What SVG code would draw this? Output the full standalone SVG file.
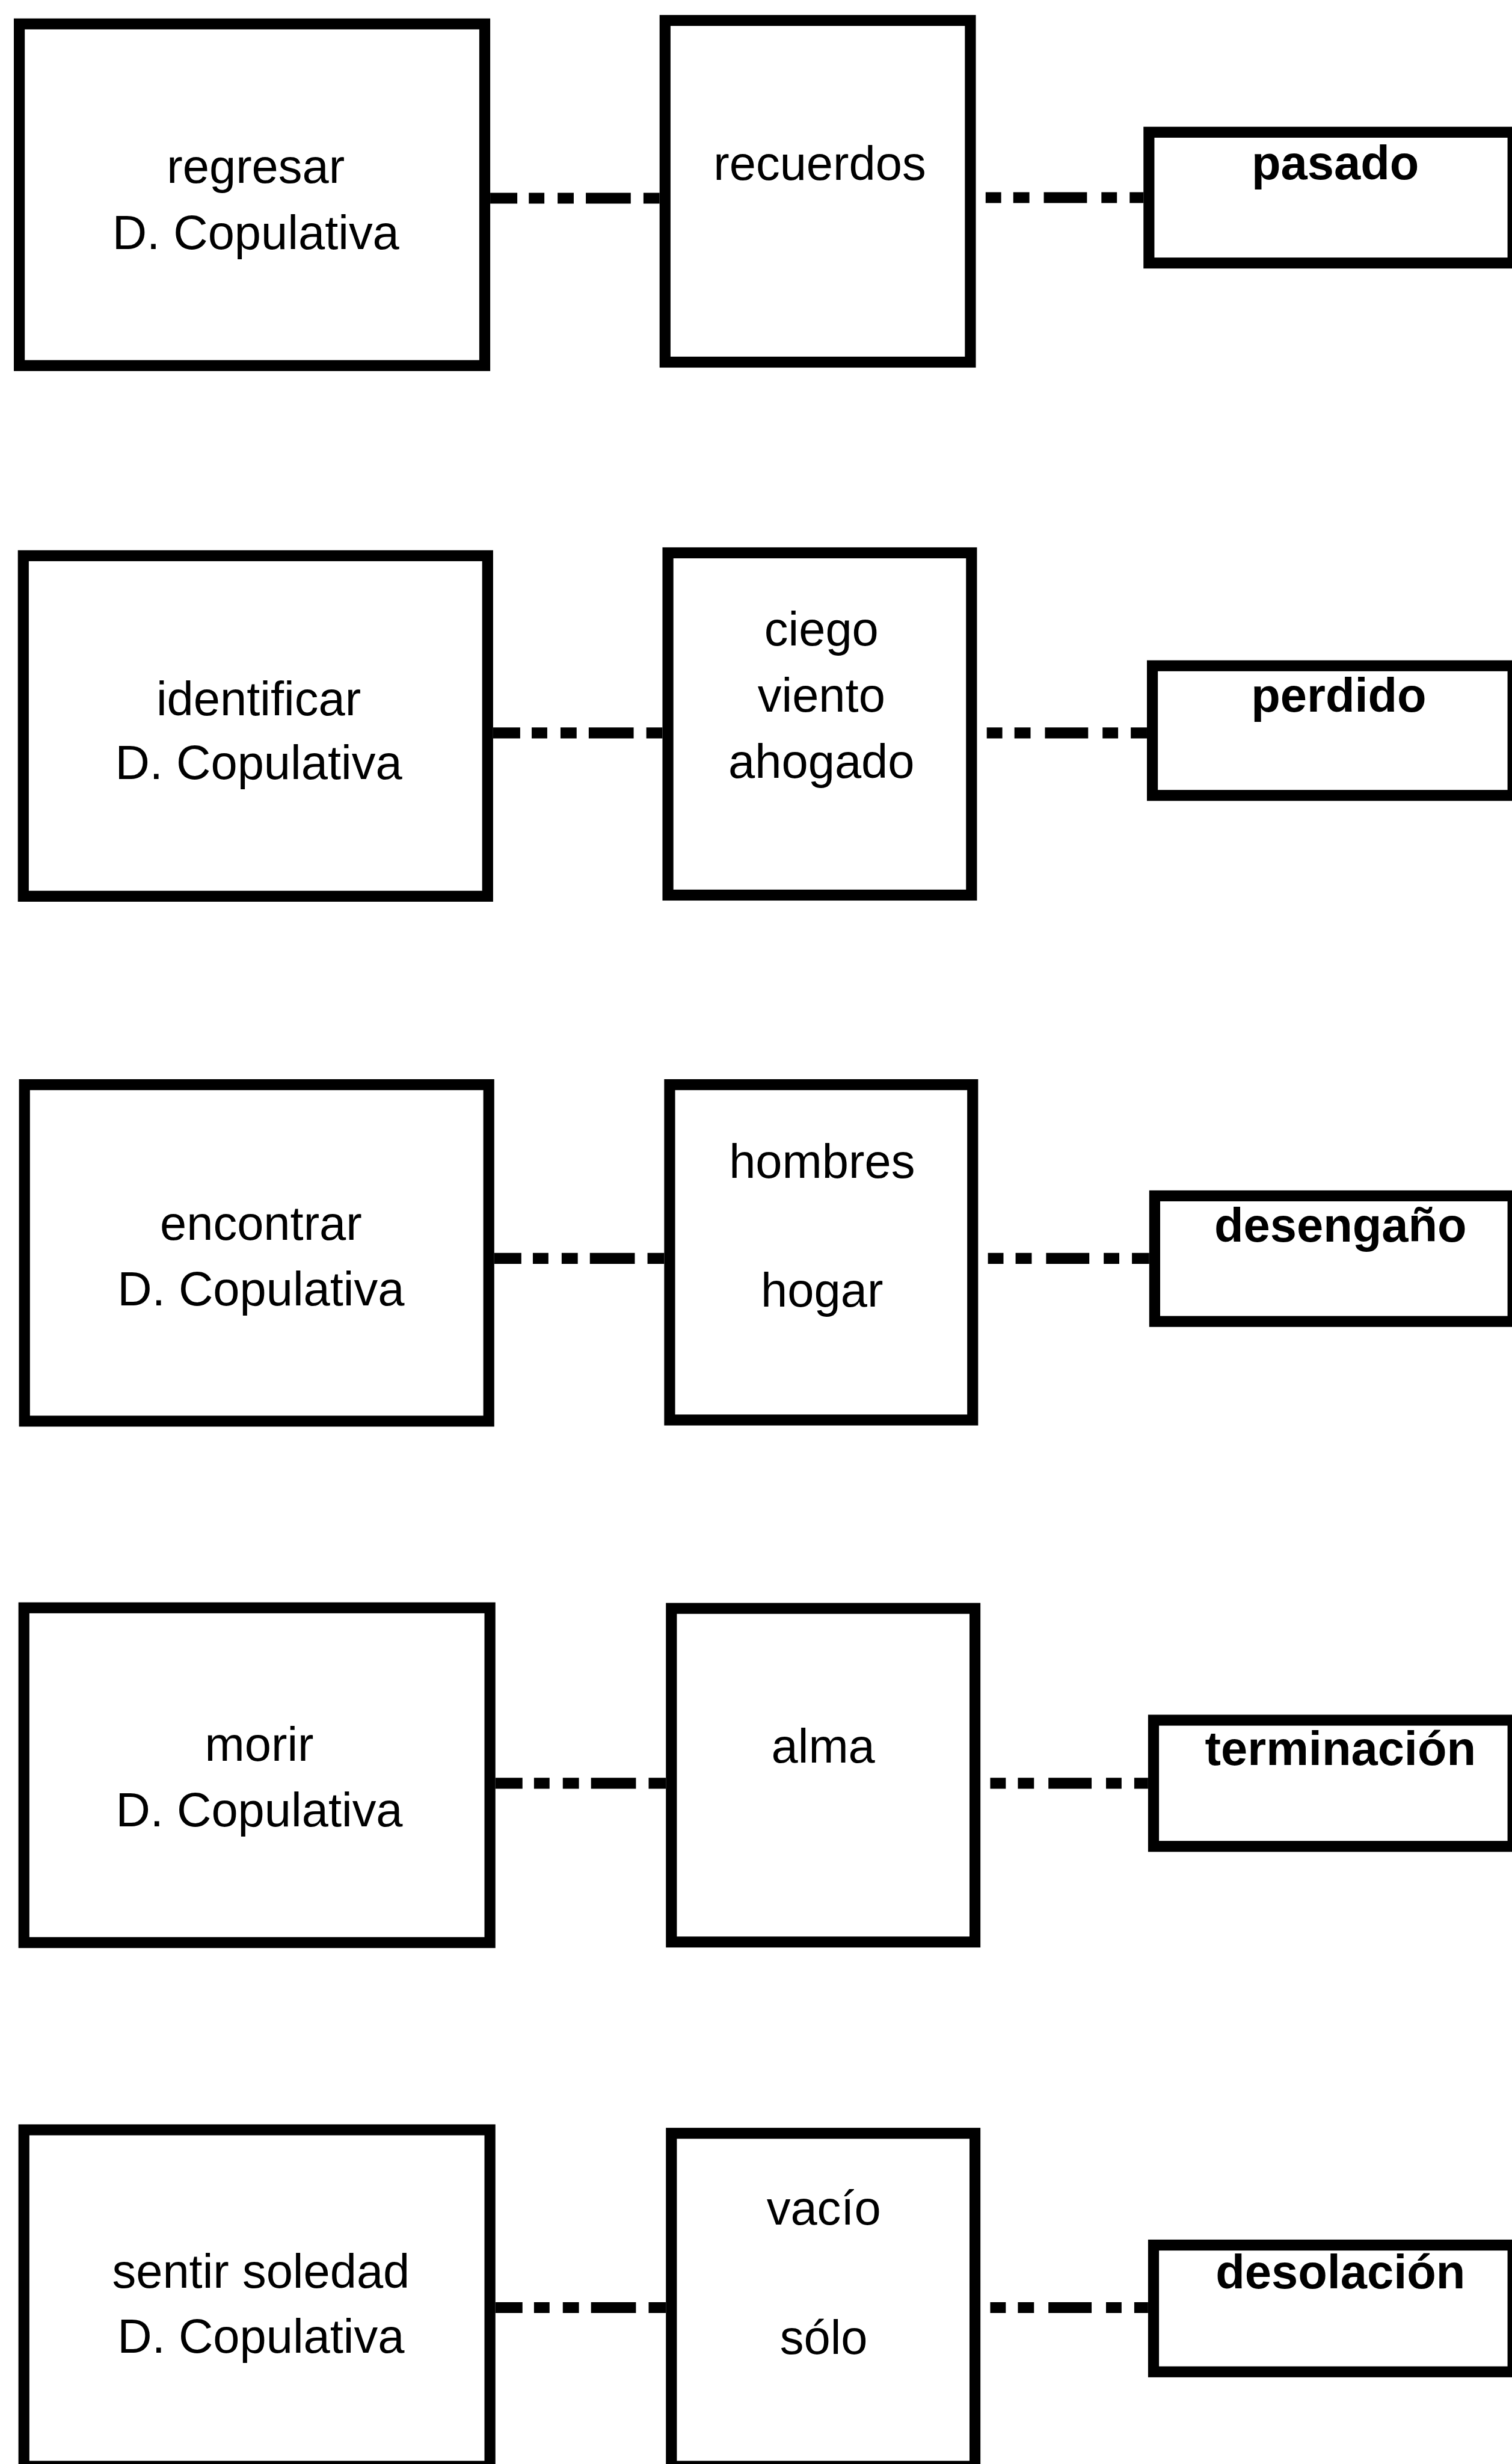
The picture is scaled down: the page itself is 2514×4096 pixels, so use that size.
<svg xmlns="http://www.w3.org/2000/svg" width="2514" height="4096" viewBox="0 0 2514 4096">
  <style>
    .box { fill: #ffffff; stroke: #000000; stroke-width: 19; }
    .t { font-family: "Liberation Sans", Arial, sans-serif; font-size: 83px; fill: #000000; text-anchor: middle; }
    .b { font-weight: bold; }
    .link { stroke: #000000; stroke-width: 19; fill: none; }
    .ab { stroke-dasharray: 47 20 27 23 28 21 78 22 80 0; }
    .bc { stroke-dasharray: 0 17 27 21 28 25 75 25 27 22 80 0; }
  </style>
  <rect x="0" y="0" width="2514" height="4096" fill="#ffffff"/>
  <g transform="scale(0.9578)">
    <!-- connectors: verb box to word box, word box to meaning box -->
    <g id="connectors">
      <line class="link ab" x1="851" y1="344" x2="1145" y2="344"/>
      <line class="link bc" x1="1694" y1="343" x2="1985" y2="343"/>
      <line class="link ab" x1="856" y1="1272" x2="1150" y2="1272"/>
      <line class="link bc" x1="1696" y1="1272" x2="1991" y2="1272"/>
      <line class="link ab" x1="858" y1="2184" x2="1153" y2="2184"/>
      <line class="link bc" x1="1698" y1="2184" x2="1995" y2="2184"/>
      <line class="link ab" x1="860" y1="3095" x2="1156" y2="3095"/>
      <line class="link bc" x1="1702" y1="3095" x2="1993" y2="3095"/>
      <line class="link ab" x1="860" y1="4005" x2="1156" y2="4005"/>
      <line class="link bc" x1="1702" y1="4005" x2="1993" y2="4005"/>
    </g>

    <!-- row 1 -->
    <g id="regresar">
      <rect class="box" x="33.5" y="41.5" width="808" height="593"/>
      <text class="t" x="444" y="317">regresar</text>
      <text class="t" x="444" y="432">D. Copulativa</text>
    </g>
    <g id="recuerdos">
      <rect class="box" x="1154.5" y="35.5" width="530" height="593"/>
      <text class="t" x="1423" y="312">recuerdos</text>
    </g>
    <g id="pasado">
      <rect class="box" x="1994.5" y="229.5" width="632" height="227"/>
      <text class="t b" x="2318" y="311">pasado</text>
    </g>

    <!-- row 2 -->
    <g id="identificar">
      <rect class="box" x="40.5" y="964.5" width="806" height="591"/>
      <text class="t" x="449" y="1241">identificar</text>
      <text class="t" x="449" y="1352">D. Copulativa</text>
    </g>
    <g id="ciego-viento-ahogado">
      <rect class="box" x="1159.5" y="959.5" width="527" height="594"/>
      <text class="t" x="1426" y="1120">ciego</text>
      <text class="t" x="1426" y="1235">viento</text>
      <text class="t" x="1426" y="1350">ahogado</text>
    </g>
    <g id="perdido">
      <rect class="box" x="2000.5" y="1155.5" width="626" height="225"/>
      <text class="t b" x="2324" y="1235">perdido</text>
    </g>

    <!-- row 3 -->
    <g id="encontrar">
      <rect class="box" x="42.5" y="1882.5" width="806" height="584"/>
      <text class="t" x="453" y="2152">encontrar</text>
      <text class="t" x="453" y="2266">D. Copulativa</text>
    </g>
    <g id="hombres-hogar">
      <rect class="box" x="1162.5" y="1882.5" width="526" height="582"/>
      <text class="t" x="1427" y="2044">hombres</text>
      <text class="t" x="1427" y="2268">hogar</text>
    </g>
    <g id="desengano">
      <rect class="box" x="2004.5" y="2075.5" width="622" height="218"/>
      <text class="t b" x="2327" y="2155">desengaño</text>
    </g>

    <!-- row 4 -->
    <g id="morir">
      <rect class="box" x="41.5" y="2790.5" width="809" height="581"/>
      <text class="t" x="450" y="3056">morir</text>
      <text class="t" x="450" y="3170">D. Copulativa</text>
    </g>
    <g id="alma">
      <rect class="box" x="1165.5" y="2791.5" width="527" height="579"/>
      <text class="t" x="1429" y="3059">alma</text>
    </g>
    <g id="terminacion">
      <rect class="box" x="2002.5" y="2985.5" width="624" height="219"/>
      <text class="t b" x="2327" y="3063">terminación</text>
    </g>

    <!-- row 5 -->
    <g id="sentir-soledad">
      <rect class="box" x="41.5" y="3696.5" width="809" height="584"/>
      <text class="t" x="453" y="3971">sentir soledad</text>
      <text class="t" x="453" y="4083">D. Copulativa</text>
    </g>
    <g id="vacio-solo">
      <rect class="box" x="1165.5" y="3702.5" width="527" height="578"/>
      <text class="t" x="1430" y="3861">vacío</text>
      <text class="t" x="1430" y="4085">sólo</text>
    </g>
    <g id="desolacion">
      <rect class="box" x="2002.5" y="3896.5" width="624" height="220"/>
      <text class="t b" x="2327" y="3972">desolación</text>
    </g>
  </g>
</svg>
